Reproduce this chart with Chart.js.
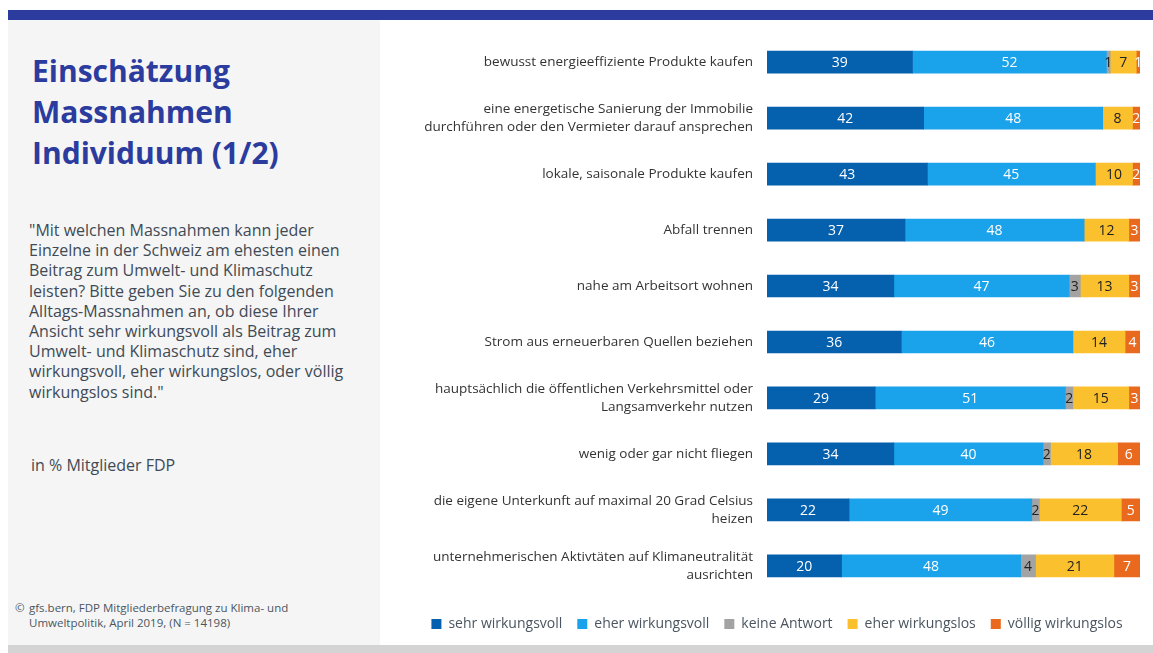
<!DOCTYPE html>
<html>
<head>
<meta charset="utf-8">
<script src="https://cdn.jsdelivr.net/npm/chart.js@4.4.1/dist/chart.umd.min.js"></script>
<style>
  html, body { margin: 0; padding: 0; background: #fff; }
  body { width: 1153px; height: 653px; position: relative; overflow: hidden; font-family: 'Open Sans', 'Noto Sans', sans-serif; }
  .topbar { position: absolute; left: 8px; top: 10px; width: 1145px; height: 10px; background: #2B3C9E; }
  .side { position: absolute; left: 8px; top: 20px; width: 372px; height: 625px; background: #F5F5F5; }
  .bottombar { position: absolute; left: 8px; top: 645px; width: 1145px; height: 8px; background: #D4D4D4; }
  h1 { position: absolute; left: 24px; top: 30px; margin: 0; font-size: 30px; line-height: 41px; font-weight: bold; color: #2B3C9E; }
  .q { position: absolute; left: 21px; top: 200px; margin: 0; font-size: 16px; line-height: 20.2px; color: #3f4a55; white-space: nowrap; }
  .unit { position: absolute; left: 23px; top: 434px; margin: 0; font-size: 16px; line-height: 22px; color: #3f4a55; }
  .src { position: absolute; left: 7px; top: 580px; margin: 0; font-size: 11.5px; line-height: 15px; color: #4a5560; }
  .src span { display: inline-block; width: 14px; }
  .wrap { position: absolute; left: 380px; top: 2px; width: 773px; height: 643px; }
</style>
</head>
<body>
<div class="topbar"></div>
<div class="side">
  <h1>Einschätzung<br>Massnahmen<br>Individuum (1/2)</h1>
  <p class="q">"Mit welchen Massnahmen kann jeder<br>Einzelne in der Schweiz am ehesten einen<br>Beitrag zum Umwelt- und Klimaschutz<br>leisten? Bitte geben Sie zu den folgenden<br>Alltags-Massnahmen an, ob diese Ihrer<br>Ansicht sehr wirkungsvoll als Beitrag zum<br>Umwelt- und Klimaschutz sind, eher<br>wirkungsvoll, eher wirkungslos, oder völlig<br>wirkungslos sind."</p>
  <p class="unit">in % Mitglieder FDP</p>
  <p class="src"><span>©</span>gfs.bern, FDP Mitgliederbefragung zu Klima- und<br><span></span>Umweltpolitik, April 2019, (N = 14198)</p>
</div>
<div class="bottombar"></div>
<div class="wrap"><canvas id="chart"></canvas></div>
<script>
// categories (multi-line labels as arrays)
const categories = [
    'bewusst energieeffiziente Produkte kaufen',
    ['eine energetische Sanierung der Immobilie', 'durchführen oder den Vermieter darauf ansprechen'],
    'lokale, saisonale Produkte kaufen',
    'Abfall trennen',
    'nahe am Arbeitsort wohnen',
    'Strom aus erneuerbaren Quellen beziehen',
    ['hauptsächlich die öffentlichen Verkehrsmittel oder', 'Langsamverkehr nutzen'],
    'wenig oder gar nicht fliegen',
    ['die eigene Unterkunft auf maximal 20 Grad Celsius', 'heizen'],
    ['unternehmerischen Aktivtäten auf Klimaneutralität', 'ausrichten']
];

const sehrWirkungsvoll  = [39, 42, 43, 37, 34, 36, 29, 34, 22, 20];
const eherWirkungsvoll  = [52, 48, 45, 48, 47, 46, 51, 40, 49, 48];
const keineAntwort      = [1, 0, 0, 0, 3, 0, 2, 2, 2, 4];
const eherWirkungslos   = [7, 8, 10, 12, 13, 14, 15, 18, 22, 21];
const voelligWirkungslos = [1, 2, 2, 3, 3, 4, 3, 6, 5, 7];

const colors = {
    darkBlue: '#0560AE',
    lightBlue: '#1AA3EA',
    grey: '#A3A3A3',
    yellow: '#FBC02D',
    orange: '#E96A1E'
};

// value labels inside the segments
const segmentLabels = {
    id: 'segmentLabels',
    afterDatasetsDraw(chart) {
        const ctx = chart.ctx;
        ctx.save();
        ctx.font = '14px "Open Sans", sans-serif';
        ctx.textAlign = 'center';
        ctx.textBaseline = 'middle';
        chart.data.datasets.forEach((ds, i) => {
            const meta = chart.getDatasetMeta(i);
            meta.data.forEach((bar, j) => {
                const v = ds.data[j];
                if (!v) return;
                ctx.fillStyle = ds.labelColor;
                ctx.fillText(v, (bar.x + bar.base) / 2, bar.y + 1);
            });
        });
        ctx.restore();
    }
};

function makeSet(label, data, color, labelColor) {
    return {
        label: label,
        data: data,
        backgroundColor: color,
        borderWidth: 0,
        barThickness: 22,
        labelColor: labelColor
    };
}

new Chart(document.getElementById('chart'), {
    type: 'bar',
    data: {
        labels: categories,
        datasets: [
            makeSet('sehr wirkungsvoll', sehrWirkungsvoll, colors.darkBlue, '#fff'),
            makeSet('eher wirkungsvoll', eherWirkungsvoll, colors.lightBlue, '#fff'),
            makeSet('keine Antwort', keineAntwort, colors.grey, '#222'),
            makeSet('eher wirkungslos', eherWirkungslos, colors.yellow, '#222'),
            makeSet('völlig wirkungslos', voelligWirkungslos, colors.orange, '#fff')
        ]
    },
    options: {
        indexAxis: 'y',
        responsive: true,
        maintainAspectRatio: false,
        animation: false,
        layout: {
            padding: { top: 0, right: 13, bottom: 4, left: 34 }
        },
        plugins: {
            legend: {
                position: 'bottom',
                // empty title only adds a little space above the legend row
                title: {
                    display: true,
                    text: ' ',
                    font: { size: 1 },
                    padding: { top: 7, bottom: 0 }
                },
                labels: {
                    boxWidth: 10,
                    boxHeight: 10,
                    padding: 15,
                    color: '#4a5560',
                    font: { size: 14, family: '"Open Sans", sans-serif' }
                }
            },
            tooltip: { enabled: false }
        },
        scales: {
            x: {
                stacked: true,
                min: 0,
                max: 100,
                display: false
            },
            y: {
                stacked: true,
                grid: { display: false, drawTicks: false },
                border: { display: false },
                ticks: {
                    padding: 14,
                    color: '#333',
                    font: { size: 13.5, family: '"Open Sans", sans-serif', lineHeight: 1.35 }
                },
                afterFit: function(scale) {
                    scale.width = 353;
                }
            }
        }
    },
    plugins: [segmentLabels]
});
</script>
</body>
</html>
